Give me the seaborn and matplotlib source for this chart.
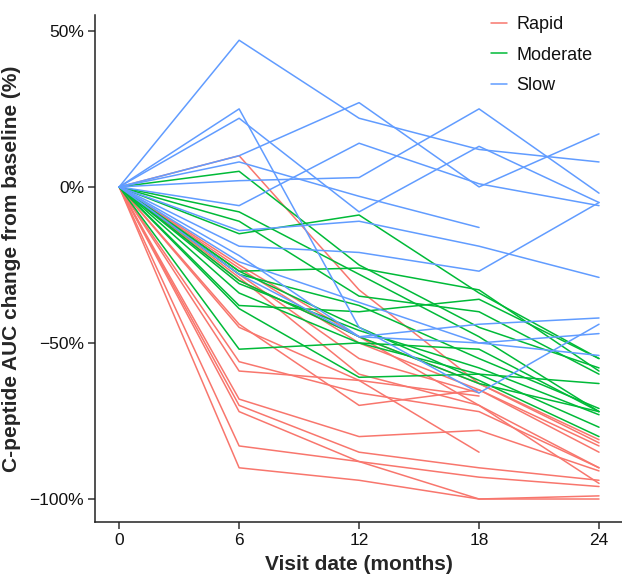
# plot.py
# C-peptide AUC change from baseline, one line per subject, coloured by progression group

import numpy as np
import pandas as pd
import matplotlib
matplotlib.use('Agg')
import matplotlib.pyplot as plt
import seaborn as sns
from matplotlib.ticker import FuncFormatter

months = [0, 6, 12, 18, 24]
groups = ['Rapid', 'Moderate', 'Slow']
colors = ['#F8766D', '#00BA38', '#619CFF']

# values, % change at each visit (nan = no visit)
nan = np.nan
rapid = [
    [0, 10, -33, -63, -82],
    [0, -25, -48, -63, -81],
    [0, -26, -50, -65, -85],
    [0, -28, -55, -66, nan],
    [0, -29, -60, -70, -90],
    [0, -44, -70, -65, -83],
    [0, -56, -66, -72, -90],
    [0, -59, -62, -67, nan],
    [0, -68, -80, -78, -91],
    [0, -70, -85, -90, -94],
    [0, -72, -88, -93, -96],
    [0, -83, -88, -100, -99],
    [0, -90, -94, -100, -100],
    [0, -30, -48, -70, -95],
    [0, -45, -62, -85, nan],
]
moderate = [
    [0, 5, -25, -45, -58],
    [0, -8, -28, -48, -72],
    [0, -11, -35, -40, -60],
    [0, -15, -9, -34, -55],
    [0, -27, -26, -33, -59],
    [0, -28, -38, -55, -71],
    [0, -30, -48, -63, -72],
    [0, -31, -46, -58, -73],
    [0, -34, -50, -60, -77],
    [0, -39, -61, -60, -63],
    [0, -52, -50, -52, -72],
    [0, -27, -45, -62, -80],
    [0, -38, -40, -36, -55],
]
slow = [
    [0, 47, 22, 12, 8],
    [0, 10, 27, 0, 17],
    [0, 2, 3, 25, -2],
    [0, 22, -8, 13, -5],
    [0, 25, -45, -66, -44],
    [0, 8, -3, -13, nan],
    [0, -6, 14, 1, -6],
    [0, -14, -11, -19, -29],
    [0, -19, -21, -27, -5],
    [0, -22, -48, -44, -42],
    [0, -24, -37, -50, -54],
    [0, -28, -48, -50, -47],
]

rows = []
sid = 0
for grp, lines in zip(groups, [rapid, moderate, slow]):
    for vals in lines:
        for m, v in zip(months, vals):
            rows.append({'id': sid, 'group': grp, 'month': m, 'change': v})
        sid += 1
df = pd.DataFrame(rows).dropna()

sns.set_style('white')
plt.rcParams['font.family'] = ['Liberation Sans', 'DejaVu Sans']

fig = plt.figure(figsize=(6.22, 5.75), dpi=100)
ax = fig.add_axes([0.153, 0.092, 0.847, 0.882])

sns.lineplot(data=df, x='month', y='change', hue='group', units='id',
             estimator=None, hue_order=groups, palette=colors,
             linewidth=1.1, ax=ax)

ax.set_xlim(-1.2, 25.15)
ax.set_ylim(-107.4, 55.1)
ax.set_xticks(months)
ax.set_yticks([50, 0, -50, -100])
ax.yaxis.set_major_formatter(FuncFormatter(lambda v, p: f'{v:.0f}%'.replace('-', '\u2212')))
ax.tick_params(axis='both', which='major', direction='out', length=5, width=1.1,
               bottom=True, left=True, labelsize=12.5, color='#333333',
               labelcolor='#111111', pad=3)

for side in ['top', 'right']:
    ax.spines[side].set_visible(False)
for side in ['left', 'bottom']:
    ax.spines[side].set_color('#222222')
    ax.spines[side].set_linewidth(1.1)

ax.set_xlabel('Visit date (months)', fontsize=15, fontweight='bold', labelpad=5)
ax.set_ylabel('C-peptide AUC change from baseline (%)', fontsize=15,
              fontweight='bold', labelpad=6)

leg = ax.legend(title=None, frameon=False, loc='upper right',
                bbox_to_anchor=(0.975, 1.03), fontsize=13, handlelength=0.9,
                handletextpad=0.5, labelspacing=0.75)
for t in leg.get_texts():
    t.set_color('#111111')

fig.savefig('out.png', dpi=100)
